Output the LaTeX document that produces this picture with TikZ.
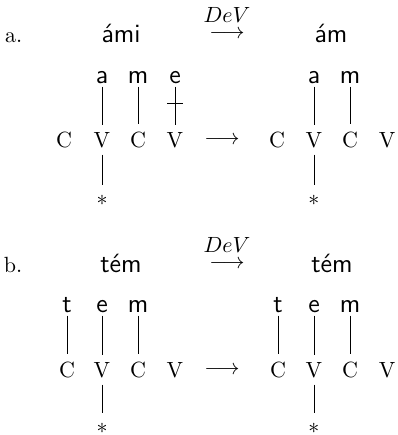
\documentclass[tikz,border=0pt]{standalone}
\usepackage{fontspec}
\usepackage{amsmath}
\usetikzlibrary{calc}
\tikzset{
	seg/.style={font=\sffamily\large, inner sep=1.5pt, text depth=0pt, anchor=base},
	slot/.style={inner sep=3pt, anchor=base},
	word/.style={font=\sffamily\large, anchor=base},
	rulename/.style={inner sep=0pt},
	rulearrow/.style={inner sep=0pt},
	ast/.style={inner sep=4.5pt},
	assoc/.style={black, line width=0.45pt},
}

\begin{document}
\begin{tikzpicture}[x=0.4545pt, y=-0.4545pt]
	\useasboundingbox (0,0) rectangle (398,435);
	
	% (a) headline
	\node[anchor=base east] (la) at (30,42) {a.};
	\node[word] (wa1) at (121,42) {ámi};
	\node[rulename] (deva) at (227,15) {$DeV$};
	\node[rulearrow] (arrdeva) at (227,34) {$\longrightarrow$};
	\node[word] (wa2) at (331,42) {ám};
	
	% (a) left: input
	\node[slot] (ac1) at (64,147) {C};
	\node[slot] (av1) at (102,147) {V};
	\node[slot] (ac2) at (138,147) {C};
	\node[slot] (av2) at (175,147) {V};
	\node[seg] (aa) at (102,83) {a};
	\node[seg] (am) at (138,83) {m};
	\node[seg] (ae) at (175,83) {e};
	\node[ast] (as1) at (102,200) {$*$};
	\draw[assoc] (aa) -- (av1);
	\draw[assoc] (am) -- (ac2);
	\draw[assoc] (ae) -- (av2);
	\draw[assoc] ($(ae.south)!0.43!(av2.north)$) ++(-8,0) -- ++(16,0);
	\draw[assoc] (av1) -- (as1);
	
	% (a) arrow
	\node (arra) at (222,140) {$\longrightarrow$};
	
	% (a) right: output
	\node[slot] (bc1) at (277,147) {C};
	\node[slot] (bv1) at (314,147) {V};
	\node[slot] (bc2) at (350,147) {C};
	\node[slot] (bv2) at (387,147) {V};
	\node[seg] (ba) at (314,83) {a};
	\node[seg] (bm) at (350,83) {m};
	\node[ast] (bs1) at (314,200) {$*$};
	\draw[assoc] (ba) -- (bv1);
	\draw[assoc] (bm) -- (bc2);
	\draw[assoc] (bv1) -- (bs1);
	
	% (b) headline
	\node[anchor=base east] (lb) at (30,272) {b.};
	\node[word] (wb1) at (121,272) {tém};
	\node[rulename] (devb) at (227,245) {$DeV$};
	\node[rulearrow] (arrdevb) at (227,264) {$\longrightarrow$};
	\node[word] (wb2) at (332,272) {tém};
	
	% (b) left: input
	\node[slot] (cc1) at (67,377) {C};
	\node[slot] (cv1) at (102,377) {V};
	\node[slot] (cc2) at (138,377) {C};
	\node[slot] (cv2) at (175,377) {V};
	\node[seg] (ct) at (67,312) {t};
	\node[seg] (ce) at (102,312) {e};
	\node[seg] (cm) at (138,312) {m};
	\node[ast] (cs1) at (102,428) {$*$};
	\draw[assoc] (ct) -- (cc1);
	\draw[assoc] (ce) -- (cv1);
	\draw[assoc] (cm) -- (cc2);
	\draw[assoc] (cv1) -- (cs1);
	
	% (b) arrow
	\node (arrb) at (222,370) {$\longrightarrow$};
	
	% (b) right: output
	\node[slot] (dc1) at (278,377) {C};
	\node[slot] (dv1) at (314,377) {V};
	\node[slot] (dc2) at (350,377) {C};
	\node[slot] (dv2) at (387,377) {V};
	\node[seg] (dt) at (278,312) {t};
	\node[seg] (de) at (314,312) {e};
	\node[seg] (dm) at (350,312) {m};
	\node[ast] (ds1) at (314,428) {$*$};
	\draw[assoc] (dt) -- (dc1);
	\draw[assoc] (de) -- (dv1);
	\draw[assoc] (dm) -- (dc2);
	\draw[assoc] (dv1) -- (ds1);
	
\end{tikzpicture}
\end{document}
